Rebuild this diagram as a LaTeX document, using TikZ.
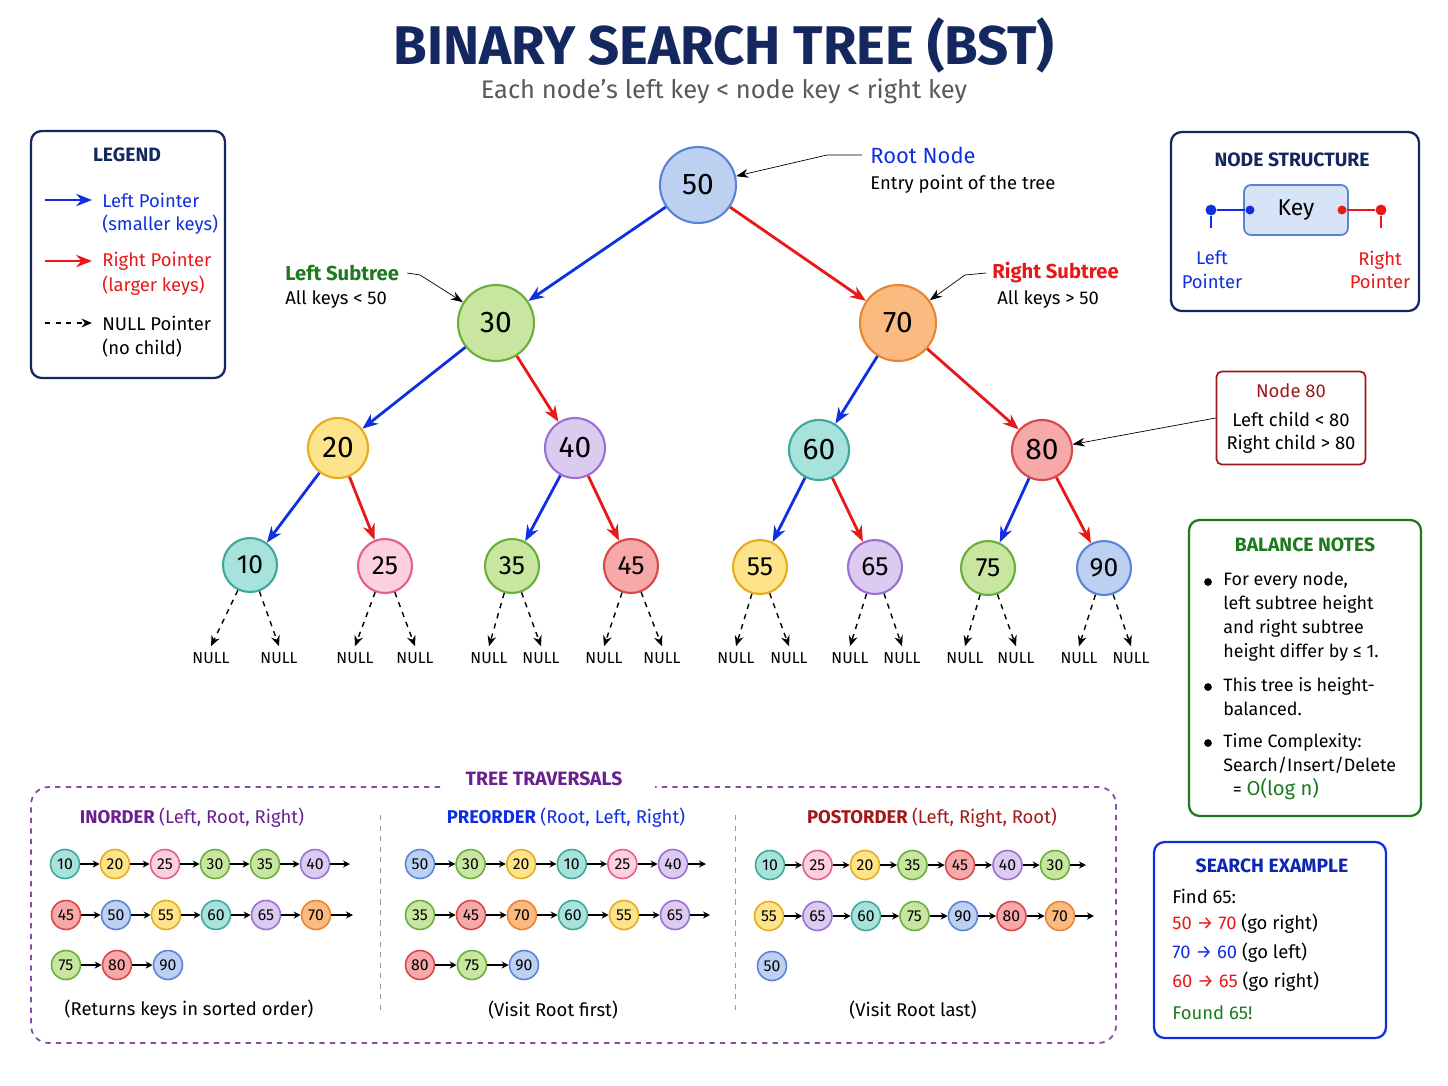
\documentclass[tikz,border=0pt]{standalone}
\usepackage{fontspec}
\setmainfont{Fira Sans}
\usetikzlibrary{arrows.meta,positioning}
\definecolor{navy}{HTML}{14285F}
\definecolor{tealF}{HTML}{A8E2DC}\definecolor{tealD}{HTML}{3FA89C}
\definecolor{yelF}{HTML}{FDE38A}\definecolor{yelD}{HTML}{E5AD1C}
\definecolor{pinkF}{HTML}{FCD0DC}\definecolor{pinkD}{HTML}{E2608A}
\definecolor{greF}{HTML}{C8E6A0}\definecolor{greD}{HTML}{6AAE3C}
\definecolor{purF}{HTML}{DCCAF0}\definecolor{purD}{HTML}{9A70D2}
\definecolor{redF}{HTML}{F7A8A8}\definecolor{redD}{HTML}{D84848}
\definecolor{bluF}{HTML}{BCD0F2}\definecolor{bluD}{HTML}{5A82D6}
\definecolor{oraF}{HTML}{FBBB80}\definecolor{oraD}{HTML}{EA8430}
\definecolor{lblue}{HTML}{1030E0}
\definecolor{lred}{HTML}{E81818}
\definecolor{dgreen}{HTML}{1E7A1E}
\definecolor{dred}{HTML}{A01818}
\definecolor{dpurple}{HTML}{6A2090}
\tikzset{
    k10/.style={fill=tealF, draw=tealD}, k60/.style={fill=tealF, draw=tealD},
    k20/.style={fill=yelF, draw=yelD},   k55/.style={fill=yelF, draw=yelD},
    k25/.style={fill=pinkF, draw=pinkD},
    k30/.style={fill=greF, draw=greD},   k35/.style={fill=greF, draw=greD},
    k75/.style={fill=greF, draw=greD},
    k40/.style={fill=purF, draw=purD},   k65/.style={fill=purF, draw=purD},
    k45/.style={fill=redF, draw=redD},   k80/.style={fill=redF, draw=redD},
    k50/.style={fill=bluF, draw=bluD},   k90/.style={fill=bluF, draw=bluD},
    k70/.style={fill=oraF, draw=oraD},
}
\begin{document}
\begin{tikzpicture}[
    x=0.02cm, y=-0.02cm,
    >={Stealth[length=9pt,width=7pt]},
    % Styles
    key/.style={circle, line width=1.2pt, inner sep=0pt, font=\fontsize{17}{17}\selectfont\mdseries},
    big/.style={key, minimum size=1.52cm},
    mid/.style={key, minimum size=1.2cm},
    leaf/.style={key, minimum size=1.08cm, font=\fontsize{15}{15}\selectfont},
    tk/.style={circle, line width=0.9pt, inner sep=0pt, minimum size=0.58cm, font=\fontsize{9}{9}\selectfont},
    tarr/.style={->, >={Stealth[length=4pt,width=4pt]}, thick},
    lft/.style={->, lblue, line width=1.6pt},
    rgt/.style={->, lred, line width=1.6pt},
    nul/.style={->, dashed, thick, >={Stealth[length=6pt,width=5pt]}},
    nl/.style={font=\fontsize{9}{9}\selectfont},
    txt/.style={font=\fontsize{10.5}{13}\selectfont, anchor=west, inner sep=0pt},
    head/.style={font=\fontsize{11}{12}\selectfont\bfseries},
    box/.style={draw, rounded corners=6pt, line width=1.3pt},
    note/.style={->, thin, >={Stealth[length=7pt,width=5pt]}},
    ]
\useasboundingbox (0,0) rectangle (1448,1086);

% title
\node (title) at (724,45) {\fontsize{31}{31}\selectfont\bfseries\color{navy}BINARY SEARCH TREE (BST)};
\node (sub) at (724,91) {\fontsize{14.5}{15}\selectfont\color{black!65}Each node's left key < node key < right key};

% tree
\node[big, k50] (n50) at (698,185) {50};
\node[big, k30] (n30) at (496,323) {30};
\node[big, k70] (n70) at (898,323) {70};
\node[mid, k20] (n20) at (338,448) {20};
\node[mid, k40] (n40) at (575,448) {40};
\node[mid, k60] (n60) at (819,450) {60};
\node[mid, k80] (n80) at (1042,450) {80};
\node[leaf, k10] (n10) at (250,565) {10};
\node[leaf, k25] (n25) at (385,566) {25};
\node[leaf, k35] (n35) at (512,566) {35};
\node[leaf, k45] (n45) at (631,566) {45};
\node[leaf, k55] (n55) at (760,567) {55};
\node[leaf, k65] (n65) at (875,567) {65};
\node[leaf, k75] (n75) at (988,568) {75};
\node[leaf, k90] (n90) at (1104,568) {90};

\draw[lft] (n50) -- (n30); \draw[rgt] (n50) -- (n70);
\draw[lft] (n30) -- (n20); \draw[rgt] (n30) -- (n40);
\draw[lft] (n70) -- (n60); \draw[rgt] (n70) -- (n80);
\draw[lft] (n20) -- (n10); \draw[rgt] (n20) -- (n25);
\draw[lft] (n40) -- (n35); \draw[rgt] (n40) -- (n45);
\draw[lft] (n60) -- (n55); \draw[rgt] (n60) -- (n65);
\draw[lft] (n80) -- (n75); \draw[rgt] (n80) -- (n90);

% NULL children
\foreach \p/\a/\b in {10/211/279, 25/355/415, 35/489/541, 45/604/662,
                      55/736/789, 65/850/902, 75/965/1016, 90/1079/1131} {
    \node[nl] (l\p) at (\a,658) {NULL};
    \node[nl] (r\p) at (\b,658) {NULL};
    \draw[nul] (n\p) -- (l\p.north);
    \draw[nul] (n\p) -- (r\p.north);
}

% annotations
\node[txt] (rootT) at (870,155) {\fontsize{12.5}{13}\selectfont\color{lblue}Root Node};
\node[txt] (rootD) at (870,184) {Entry point of the tree};
\coordinate (rk) at (827,155);
\draw[note] (rootT.west) ++(-8,0) -- (rk) -- (n50);
\node[txt] (lsT) at (285,273) {\fontsize{11.5}{12}\selectfont\bfseries\color{dgreen}Left Subtree};
\node[txt] (lsD) at (285,300) {All keys < 50};
\coordinate (lk) at (420,275);
\draw[note] (lsT.east) ++(8,0) -- (lk) -- (n30);
\node[txt] (rsT) at (992,273) {\fontsize{11.5}{12}\selectfont\bfseries\color{lred}Right Subtree};
\node[txt] (rsD) at (997,300) {All keys > 50};
\coordinate (rk2) at (965,275);
\draw[note] (rsT.west) ++(-6,0) -- (rk2) -- (n70);

% Node 80 note
\node[box, draw=dred, line width=1pt, rounded corners=3pt, minimum width=2.98cm, minimum height=1.86cm] (n80box) at (1291,418) {};
\node (n80t) at (1291,391) {\fontsize{10.5}{11}\selectfont\color{dred}Node 80};
\node (n80a) at (1291,419) {\fontsize{10.5}{11}\selectfont Left child < 80};
\node (n80b) at (1291,444) {\fontsize{10.5}{11}\selectfont Right child > 80};
\draw[note] (n80box.west) -- (n80);

% legend
\node[box, draw=navy, minimum width=3.88cm, minimum height=4.94cm] (leg) at (128,254.5) {};
\node[head, text=navy] (legT) at (127,155) {LEGEND};
\coordinate (la1) at (45,200); \coordinate (la2) at (92,200);
\coordinate (lb1) at (45,261); \coordinate (lb2) at (92,261);
\coordinate (lc1) at (45,323); \coordinate (lc2) at (92,323);
\draw[lft, line width=1.4pt] (la1) -- (la2);
\draw[rgt, line width=1.4pt] (lb1) -- (lb2);
\draw[nul] (lc1) -- (lc2);
\node[txt, text=lblue] (lt1) at (102,200) {Left Pointer};
\node[txt, text=lblue] (lt2) at (102,225) {(smaller keys)};
\node[txt, text=lred] (lt3) at (102,261) {Right Pointer};
\node[txt, text=lred] (lt4) at (102,286) {(larger keys)};
\node[txt] (lt5) at (102,323) {NULL Pointer};
\node[txt] (lt6) at (102,348) {(no child)};

% node structure
\node[box, draw=navy, minimum width=4.96cm, minimum height=3.58cm] (ns) at (1295,221.5) {};
\node[head, text=navy] (nsT) at (1292,160) {NODE STRUCTURE};
\node[draw=bluD, fill=bluF!60, rounded corners=4pt, line width=1pt, minimum width=2.08cm, minimum height=1cm,
      font=\fontsize{13}{13}\selectfont] (keyb) at (1296,210) {Key};
\node[circle, fill=lblue, inner sep=2.2pt] (lp) at (1211,210) {};
\node[circle, fill=lblue, inner sep=1.8pt] (lp2) at (1250,210) {};
\node[circle, fill=lred, inner sep=1.8pt] (rp2) at (1342,210) {};
\node[circle, fill=lred, inner sep=2.2pt] (rp) at (1381,210) {};
\draw[lblue, thick] (lp) -- (lp2); \draw[lblue, thick] (lp) -- ++(0,18);
\draw[lred, thick] (rp2) -- (rp); \draw[lred, thick] (rp) -- ++(0,18);
\node[align=center, text=lblue, font=\fontsize{10.5}{13.5}\selectfont] (lpT) at (1212,270) {Left\\Pointer};
\node[align=center, text=lred, font=\fontsize{10.5}{13.5}\selectfont] (rpT) at (1380,270) {Right\\Pointer};

% balance notes
\node[box, draw=dgreen, minimum width=4.64cm, minimum height=5.92cm] (bal) at (1305,668) {};
\node[head, text=dgreen] (balT) at (1305,545) {BALANCE NOTES};
\foreach \y in {582,687,743} \fill (1208,\y) circle (2.2pt);
\node[txt, align=left, anchor=north west, font=\fontsize{10.2}{13.6}\selectfont] (b1) at (1223,572)
    {For every node,\\left subtree height\\and right subtree\\height differ by ≤ 1.};
\node[txt, align=left, anchor=north west, font=\fontsize{10.2}{13.6}\selectfont] (b2) at (1223,677)
    {This tree is height-\\balanced.};
\node[txt, align=left, anchor=north west, font=\fontsize{10.2}{13.6}\selectfont] (b3) at (1223,733)
    {Time Complexity:\\Search/Insert/Delete\\\ \ = {\fontsize{11.5}{12}\selectfont\color{dgreen}O(log n)}};

% search example
\node[box, draw=lblue, minimum width=4.64cm, minimum height=3.92cm] (se) at (1270,940) {};
\node[head, text=lblue!80!black] (seT) at (1272,866) {SEARCH EXAMPLE};
\node[txt] (s1) at (1172,896) {Find 65:};
\node[txt] (s2) at (1172,924) {\color{lred}50 → 70 \color{black}(go right)};
\node[txt] (s3) at (1172,953) {\color{lblue}70 → 60 \color{black}(go left)};
\node[txt] (s4) at (1172,982) {\color{lred}60 → 65 \color{black}(go right)};
\node[txt] (s5) at (1172,1013) {\color{dgreen}Found 65!};

% traversals
\draw[dpurple!80, dashed, line width=1pt, rounded corners=10pt] (440,787) -| (31,1043) -| (1116,787) -- (655,787);
\node[head, text=dpurple] (trT) at (544,779) {TREE TRAVERSALS};
\draw[black!40, dashed] (380,815) -- (380,1015);
\draw[black!40, dashed] (735,815) -- (735,1015);
\node (inT) at (192,818) {\fontsize{10.5}{11}\selectfont\color{dpurple}\bfseries INORDER \mdseries(Left, Root, Right)};
\node (preT) at (566,818) {\fontsize{10.5}{11}\selectfont\color{lblue}\bfseries PREORDER \mdseries(Root, Left, Right)};
\node (postT) at (932,818) {\fontsize{10.5}{11}\selectfont\color{dred}\bfseries POSTORDER \mdseries(Left, Right, Root)};

% inorder
\foreach \k [count=\i] in {10,20,25,30,35,40} \node[tk, k\k] (ia\i) at ({65+50*(\i-1)},864) {\k};
\foreach \k [count=\i] in {45,50,55,60,65,70} \node[tk, k\k] (ib\i) at ({66+50*(\i-1)},915) {\k};
\foreach \k [count=\i] in {75,80,90} \node[tk, k\k] (ic\i) at ({66+51*(\i-1)},965) {\k};
\foreach \i [count=\j from 2] in {1,...,5} {\draw[tarr] (ia\i) -- (ia\j); \draw[tarr] (ib\i) -- (ib\j);}
\foreach \i [count=\j from 2] in {1,2} \draw[tarr] (ic\i) -- (ic\j);
\coordinate (iae) at (350,864); \draw[tarr] (ia6) -- (iae);
\coordinate (ibe) at (353,915); \draw[tarr] (ib6) -- (ibe);
\node (inF) at (189,1010) {\fontsize{10.5}{11}\selectfont(Returns keys in sorted order)};

% preorder
\foreach \k [count=\i] in {50,30,20,10,25,40} \node[tk, k\k] (pa\i) at ({420+50.6*(\i-1)},864) {\k};
\foreach \k [count=\i] in {35,45,70,60,55,65} \node[tk, k\k] (pb\i) at ({420+51*(\i-1)},915) {\k};
\foreach \k [count=\i] in {80,75,90} \node[tk, k\k] (pc\i) at ({420+52*(\i-1)},965) {\k};
\foreach \i [count=\j from 2] in {1,...,5} {\draw[tarr] (pa\i) -- (pa\j); \draw[tarr] (pb\i) -- (pb\j);}
\foreach \i [count=\j from 2] in {1,2} \draw[tarr] (pc\i) -- (pc\j);
\coordinate (pae) at (706,864); \draw[tarr] (pa6) -- (pae);
\coordinate (pbe) at (710,915); \draw[tarr] (pb6) -- (pbe);
\node (preF) at (553,1010) {\fontsize{10.5}{11}\selectfont(Visit Root first)};

% postorder
\foreach \k [count=\i] in {10,25,20,35,45,40,30} \node[tk, k\k] (qa\i) at ({770+47.5*(\i-1)},865) {\k};
\foreach \k [count=\i] in {55,65,60,75,90,80,70} \node[tk, k\k] (qb\i) at ({769+48.5*(\i-1)},916) {\k};
\node[tk, k50] (qc1) at (772,966) {50};
\foreach \i [count=\j from 2] in {1,...,6} {\draw[tarr] (qa\i) -- (qa\j); \draw[tarr] (qb\i) -- (qb\j);}
\coordinate (qae) at (1086,865); \draw[tarr] (qa7) -- (qae);
\coordinate (qbe) at (1094,916); \draw[tarr] (qb7) -- (qbe);
\node (postF) at (913,1010) {\fontsize{10.5}{11}\selectfont(Visit Root last)};
\end{tikzpicture}
\end{document}
